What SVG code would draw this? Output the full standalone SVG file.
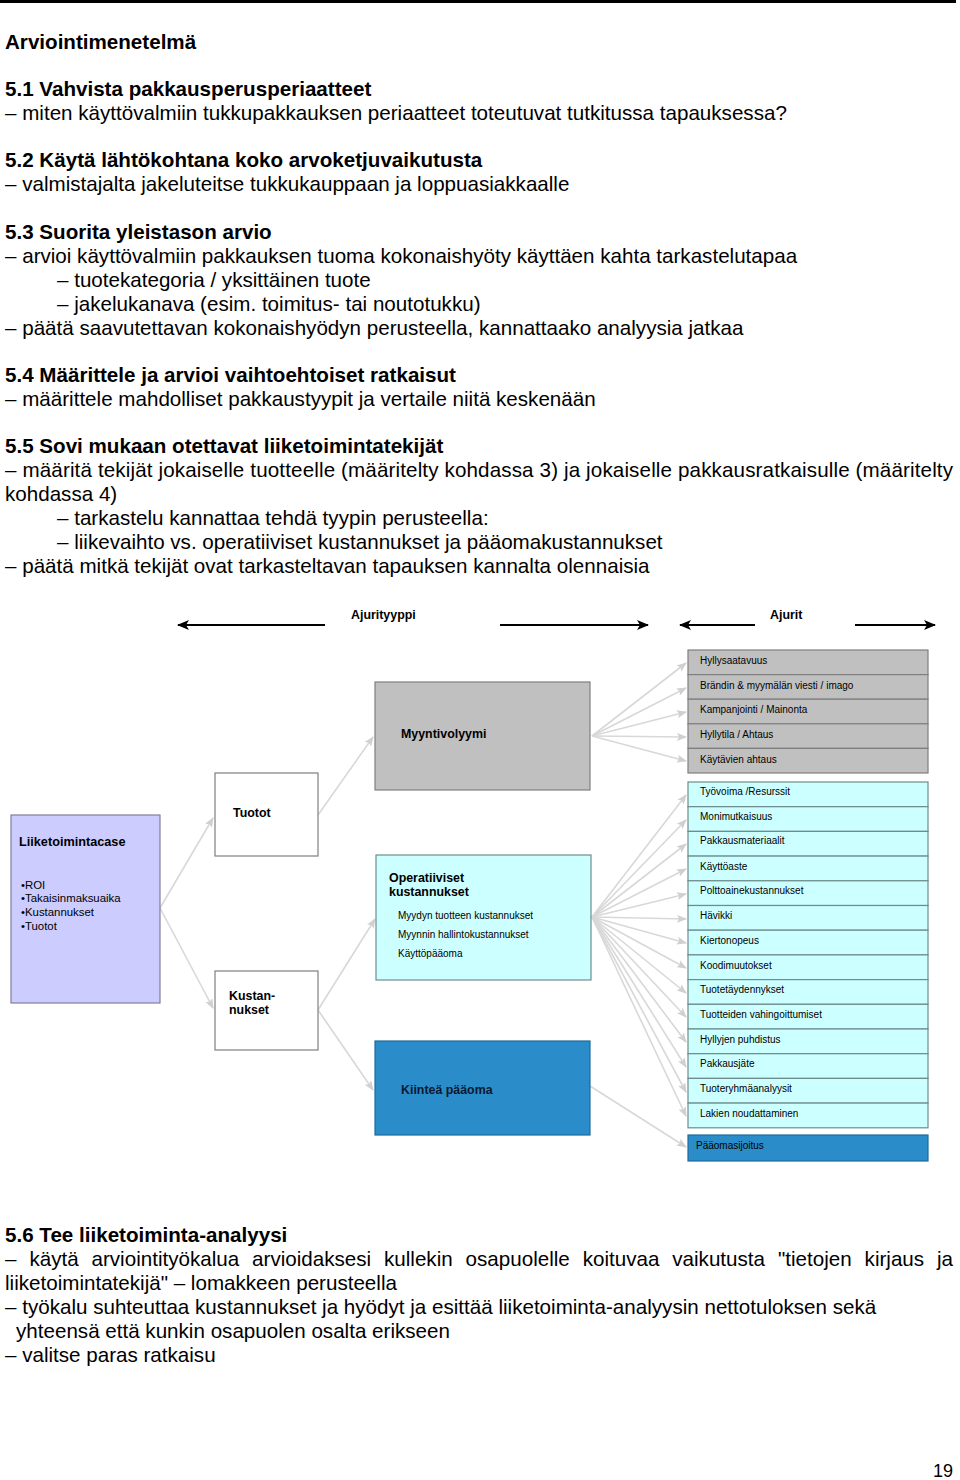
<svg xmlns="http://www.w3.org/2000/svg" width="960" height="1480" viewBox="0 0 960 1480">
<defs>
<style>
.t{font-family:"Liberation Sans",Arial,sans-serif;font-size:20.6px;fill:#000}
.b{font-weight:bold}
.d{font-family:"Liberation Sans",Arial,sans-serif;fill:#000}
.h{font-size:12.4px;font-weight:bold}
.s{font-size:10px}
.m{font-size:11.4px}
.conn{stroke:#d8d8d8;stroke-width:1.6;fill:none;marker-end:url(#ga)}
.blk{stroke:#000;stroke-width:2;fill:none;marker-end:url(#ba)}
.gray{fill:#c0c0c0;stroke:#7f7f7f;stroke-width:1.2}
.cyan{fill:#ccffff;stroke:#6f8c8c;stroke-width:1.2}
.white{fill:#fff;stroke:#7f7f7f;stroke-width:1.2}
.lav{fill:#ccccff;stroke:#7f7f9f;stroke-width:1.2}
.blue{fill:#2a8cc8;stroke:#1f6b9a;stroke-width:1.2}
</style>
<marker id="ga" viewBox="0 0 10 8" refX="9" refY="4" markerWidth="10" markerHeight="8" markerUnits="userSpaceOnUse" orient="auto">
<path d="M0,0 L10,4 L0,8 L2,4 z" fill="#d0d0d0"/>
</marker>
<marker id="ba" viewBox="0 0 12 10" refX="11" refY="5" markerWidth="12" markerHeight="10" markerUnits="userSpaceOnUse" orient="auto">
<path d="M0,0 L12,5 L0,10 L3,5 z" fill="#000"/>
</marker>
</defs>
<rect width="960" height="1480" fill="#fff"/>
<line x1="0" y1="1.5" x2="956" y2="1.5" stroke="#000" stroke-width="3"/>

<g id="body-text">
<text class="t b" x="5" y="49">Arviointimenetelmä</text>
<text class="t b" x="5" y="96">5.1 Vahvista pakkausperusperiaatteet</text>
<text class="t" x="5" y="120">– miten käyttövalmiin tukkupakkauksen periaatteet toteutuvat tutkitussa tapauksessa?</text>
<text class="t b" x="5" y="167">5.2 Käytä lähtökohtana koko arvoketjuvaikutusta</text>
<text class="t" x="5" y="191">– valmistajalta jakeluteitse tukkukauppaan ja loppuasiakkaalle</text>
<text class="t b" x="5" y="239">5.3 Suorita yleistason arvio</text>
<text class="t" x="5" y="263">– arvioi käyttövalmiin pakkauksen tuoma kokonaishyöty käyttäen kahta tarkastelutapaa</text>
<text class="t" x="57" y="287">– tuotekategoria / yksittäinen tuote</text>
<text class="t" x="57" y="311">– jakelukanava (esim. toimitus- tai noutotukku)</text>
<text class="t" x="5" y="335">– päätä saavutettavan kokonaishyödyn perusteella, kannattaako analyysia jatkaa</text>
<text class="t b" x="5" y="382">5.4 Määrittele ja arvioi vaihtoehtoiset ratkaisut</text>
<text class="t" x="5" y="406">– määrittele mahdolliset pakkaustyypit ja vertaile niitä keskenään</text>
<text class="t b" x="5" y="453">5.5 Sovi mukaan otettavat liiketoimintatekijät</text>
<text class="t" x="5" y="477" textLength="948" lengthAdjust="spacing">– määritä tekijät jokaiselle tuotteelle (määritelty kohdassa 3) ja jokaiselle pakkausratkaisulle (määritelty</text>
<text class="t" x="5" y="501">kohdassa 4)</text>
<text class="t" x="57" y="525">– tarkastelu kannattaa tehdä tyypin perusteella:</text>
<text class="t" x="57" y="549">– liikevaihto vs. operatiiviset kustannukset ja pääomakustannukset</text>
<text class="t" x="5" y="573">– päätä mitkä tekijät ovat tarkasteltavan tapauksen kannalta olennaisia</text>

<text class="t b" x="5" y="1242">5.6 Tee liiketoiminta-analyysi</text>
<text class="t" y="1266"><tspan x="5">–</tspan><tspan x="29.4">käytä</tspan><tspan x="91.5">arviointityökalua</tspan><tspan x="252.1">arvioidaksesi</tspan><tspan x="384">kullekin</tspan><tspan x="465.6">osapuolelle</tspan><tspan x="582.7">koituvaa</tspan><tspan x="672.3">vaikutusta</tspan><tspan x="778">"tietojen</tspan><tspan x="864.6">kirjaus</tspan><tspan x="937">ja</tspan></text>
<text class="t" x="5" y="1290">liiketoimintatekijä" – lomakkeen perusteella</text>
<text class="t" x="5" y="1314">– työkalu suhteuttaa kustannukset ja hyödyt ja esittää liiketoiminta-analyysin nettotuloksen sekä</text>
<text class="t" x="16" y="1338">yhteensä että kunkin osapuolen osalta erikseen</text>
<text class="t" x="5" y="1362">– valitse paras ratkaisu</text>
<text class="t" x="933" y="1477" style="font-size:18px">19</text>
</g>

<g id="header-arrows">
<text class="d h" x="351" y="619">Ajurityyppi</text>
<text class="d h" x="770" y="619">Ajurit</text>
<line class="blk" x1="325" y1="625" x2="178" y2="625"/>
<line class="blk" x1="500" y1="625" x2="648" y2="625"/>
<line class="blk" x1="755" y1="625" x2="680" y2="625"/>
<line class="blk" x1="855" y1="625" x2="935" y2="625"/>
</g>

<g id="connectors">
<path class="conn" d="M160,908 L213,818"/>
<path class="conn" d="M160,908 L213,1008"/>
<path class="conn" d="M318,815 L373,737"/>
<path class="conn" d="M318,1010 L375,919"/>
<path class="conn" d="M318,1010 L373,1090"/>
<path class="conn" d="M592,736 L686,663"/>
<path class="conn" d="M592,736 L686,688"/>
<path class="conn" d="M592,736 L686,712"/>
<path class="conn" d="M592,736 L686,737"/>
<path class="conn" d="M592,736 L686,761"/>
<path class="conn" d="M592,917 L686,795"/>
<path class="conn" d="M592,917 L686,820"/>
<path class="conn" d="M592,917 L686,844"/>
<path class="conn" d="M592,917 L686,869"/>
<path class="conn" d="M592,917 L686,894"/>
<path class="conn" d="M592,917 L686,919"/>
<path class="conn" d="M592,917 L686,943"/>
<path class="conn" d="M592,917 L686,968"/>
<path class="conn" d="M592,917 L686,993"/>
<path class="conn" d="M592,917 L686,1017"/>
<path class="conn" d="M592,917 L686,1042"/>
<path class="conn" d="M592,917 L686,1067"/>
<path class="conn" d="M592,917 L686,1092"/>
<path class="conn" d="M592,917 L686,1116"/>
<path class="conn" d="M590,1086 L686,1147"/>
</g>

<g id="liiketoimintacase">
<rect class="lav" x="11" y="815" width="149" height="188"/>
<text class="d h" x="19" y="846" style="font-size:12.7px">Liiketoimintacase</text>
<text class="d m" x="21" y="889">•ROI</text>
<text class="d m" x="21" y="902">•Takaisinmaksuaika</text>
<text class="d m" x="21" y="916">•Kustannukset</text>
<text class="d m" x="21" y="930">•Tuotot</text>
</g>

<g id="tuotot">
<rect class="white" x="215" y="773" width="103" height="83"/>
<text class="d h" x="233" y="817">Tuotot</text>
</g>

<g id="kustannukset">
<rect class="white" x="215" y="971" width="103" height="79"/>
<text class="d h" x="229" y="1000">Kustan-</text>
<text class="d h" x="229" y="1014">nukset</text>
</g>

<g id="myyntivolyymi">
<rect class="gray" x="375" y="682" width="215" height="108"/>
<text class="d h" x="401" y="738">Myyntivolyymi</text>
</g>

<g id="operatiiviset">
<rect class="cyan" x="376" y="855" width="215" height="125"/>
<text class="d h" x="389" y="882">Operatiiviset</text>
<text class="d h" x="389" y="896">kustannukset</text>
<text class="d s" x="398" y="919">Myydyn tuotteen kustannukset</text>
<text class="d s" x="398" y="938">Myynnin hallintokustannukset</text>
<text class="d s" x="398" y="957">Käyttöpääoma</text>
</g>

<g id="kiintea">
<rect class="blue" x="375" y="1041" width="215" height="94"/>
<text class="d h" x="401" y="1094" style="fill:#0b1a33">Kiinteä pääoma</text>
</g>

<g id="ajurit-myynti">
<rect class="gray" x="688" y="650" width="240" height="24.6"/>
<rect class="gray" x="688" y="674.6" width="240" height="24.6"/>
<rect class="gray" x="688" y="699.2" width="240" height="24.6"/>
<rect class="gray" x="688" y="723.8" width="240" height="24.6"/>
<rect class="gray" x="688" y="748.4" width="240" height="24.6"/>
<text class="d s" x="700" y="664">Hyllysaatavuus</text>
<text class="d s" x="700" y="689">Brändin &amp; myymälän viesti / imago</text>
<text class="d s" x="700" y="713">Kampanjointi / Mainonta</text>
<text class="d s" x="700" y="738">Hyllytila / Ahtaus</text>
<text class="d s" x="700" y="763">Käytävien ahtaus</text>
</g>

<g id="ajurit-operatiiviset">
<rect class="cyan" x="688" y="782" width="240" height="24.7"/>
<rect class="cyan" x="688" y="806.7" width="240" height="24.7"/>
<rect class="cyan" x="688" y="831.4" width="240" height="24.7"/>
<rect class="cyan" x="688" y="856.1" width="240" height="24.7"/>
<rect class="cyan" x="688" y="880.8" width="240" height="24.7"/>
<rect class="cyan" x="688" y="905.5" width="240" height="24.7"/>
<rect class="cyan" x="688" y="930.2" width="240" height="24.7"/>
<rect class="cyan" x="688" y="954.9" width="240" height="24.7"/>
<rect class="cyan" x="688" y="979.6" width="240" height="24.7"/>
<rect class="cyan" x="688" y="1004.3" width="240" height="24.7"/>
<rect class="cyan" x="688" y="1029" width="240" height="24.7"/>
<rect class="cyan" x="688" y="1053.7" width="240" height="24.7"/>
<rect class="cyan" x="688" y="1078.4" width="240" height="24.7"/>
<rect class="cyan" x="688" y="1103.1" width="240" height="24.7"/>
<text class="d s" x="700" y="795">Työvoima /Resurssit</text>
<text class="d s" x="700" y="820">Monimutkaisuus</text>
<text class="d s" x="700" y="844">Pakkausmateriaalit</text>
<text class="d s" x="700" y="870">Käyttöaste</text>
<text class="d s" x="700" y="894">Polttoainekustannukset</text>
<text class="d s" x="700" y="919">Hävikki</text>
<text class="d s" x="700" y="944">Kiertonopeus</text>
<text class="d s" x="700" y="969">Koodimuutokset</text>
<text class="d s" x="700" y="993">Tuotetäydennykset</text>
<text class="d s" x="700" y="1018">Tuotteiden vahingoittumiset</text>
<text class="d s" x="700" y="1043">Hyllyjen puhdistus</text>
<text class="d s" x="700" y="1067">Pakkausjäte</text>
<text class="d s" x="700" y="1092">Tuoteryhmäanalyysit</text>
<text class="d s" x="700" y="1117">Lakien noudattaminen</text>
</g>

<g id="ajurit-paaoma">
<rect class="blue" x="688" y="1135" width="240" height="26"/>
<text class="d s" x="696" y="1149">Pääomasijoitus</text>
</g>
</svg>
